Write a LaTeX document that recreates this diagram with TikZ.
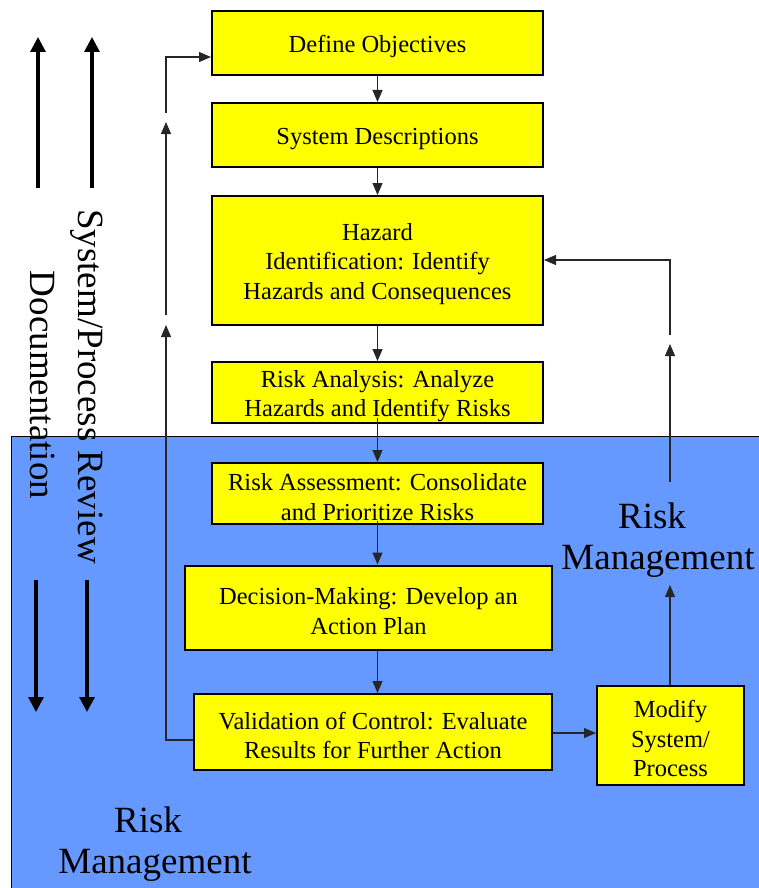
\documentclass[tikz,border=0pt]{standalone}
\usepackage{fontspec}
\setmainfont{Liberation Serif}
\usetikzlibrary{arrows.meta}
\definecolor{bgblue}{HTML}{6699FF}
\definecolor{boxyellow}{HTML}{FFFF00}
\newcommand{\tp}{\rule{0pt}{24pt}}
\tikzset{
  box/.style={draw=black, line width=2pt, fill=boxyellow, align=center, inner sep=0pt,
    font=\fontsize{24.5}{29.5}\selectfont},
  conn/.style={draw=black!85, line width=1.1pt, -{Triangle[length=12pt,width=10pt]}},
  bigarrow/.style={draw=black, line width=3.2pt, -{Triangle[length=15pt,width=15pt]}},
  bigtext/.style={inner sep=0pt, font=\fontsize{37}{43}\selectfont},
}
\begin{document}
\begin{tikzpicture}[x=1pt,y=-1pt]
\useasboundingbox (0,0) rectangle (759,888);
% blue region
\fill[bgblue] (11,436) rectangle (765,892);
\draw[line width=1pt] (11,892) -- (11,436) -- (765,436);

% boxes
\node[box, minimum width=331pt, minimum height=64pt] (obj) at (377.5,43) {\tp Define Objectives};
\node[box, minimum width=331pt, minimum height=64pt] (sys) at (377.5,135) {\tp System Descriptions};
\node[box, minimum width=331pt, minimum height=129pt] (haz) at (377.5,260.5) {\tp Hazard\\Identification: Identify\\Hazards and Consequences};
\node[box, minimum width=331pt, minimum height=61pt] (ana) at (377.5,392.5) {\tp Risk Analysis: Analyze\\Hazards and Identify Risks};
\node[box, minimum width=331pt, minimum height=61pt] (ass) at (377.5,493.5) {\tp Risk Assessment: Consolidate\\and Prioritize Risks};
\node[box, minimum width=367pt, minimum height=84pt] (dec) at (368.5,607.5) {\tp Decision-Making: Develop an\\Action Plan};
\node[box, minimum width=358pt, minimum height=76pt] (val) at (373,732) {\tp Validation of Control: Evaluate\\Results for Further Action};
\node[box, minimum width=147pt, minimum height=99pt] (mod) at (670.5,735.5) {\tp Modify\\System/\\Process};

% main flow connectors
\draw[conn] (obj.south) -- (sys.north);
\draw[conn] (sys.south) -- (haz.north);
\draw[conn] (haz.south) -- (ana.north);
\draw[conn] ([yshift=6pt]ana.south) -- (ass.north);
\draw[conn] ([yshift=4pt]ass.south) -- (dec.north -| ass.north);
\draw[conn] (dec.south -| ass.south) -- (val.north -| ass.south);
\draw[conn] (val.east |- 0,733) -- (mod.west |- 0,733);

% left feedback loop
\coordinate (lstart) at (val.west |- 0,740);
\coordinate (la1) at (166,325);
\coordinate (lb0) at (166,315);
\coordinate (lb1) at (166,122);
\coordinate (lc0) at (166,113);
\coordinate (lc1) at (obj.west |- 0,57);
\draw[conn] (lstart) -| (la1);
\draw[conn] (lb0) -- (lb1);
\draw[conn] (lc0) |- (lc1);

% right feedback loop
\coordinate (ra1) at (670,585);
\coordinate (rb0) at (670,482);
\coordinate (rb1) at (670,344);
\coordinate (rc0) at (670,335);
\coordinate (rc1) at (haz.east |- 0,260);
\draw[conn] (mod.north -| 670,0) -- (ra1);
\draw[conn] (rb0) -- (rb1);
\draw[conn] (rc0) |- (rc1);

% big arrows
\coordinate (du0) at (38,188); \coordinate (du1) at (38,37);
\coordinate (su0) at (92,188); \coordinate (su1) at (92,37);
\coordinate (dd0) at (36,580); \coordinate (dd1) at (36,712);
\coordinate (sd0) at (87,580); \coordinate (sd1) at (87,712);
\draw[bigarrow] (du0) -- (du1);
\draw[bigarrow] (su0) -- (su1);
\draw[bigarrow] (dd0) -- (dd1);
\draw[bigarrow] (sd0) -- (sd1);

% rotated labels
\node[bigtext, rotate=-90, anchor=base] (doc) at (30,385) {Documentation};
\node[bigtext, rotate=-90, anchor=base] (spr) at (78,386.5) {System/Process Review};

% risk management labels
\node[bigtext, anchor=base] (rmr1) at (148,832) {Risk};
\node[bigtext, anchor=base] (rmr2) at (155,873) {Management};
\node[bigtext, anchor=base] (rmr3) at (652,528) {Risk};
\node[bigtext, anchor=base] (rmr4) at (658,569) {Management};
\end{tikzpicture}
\end{document}
